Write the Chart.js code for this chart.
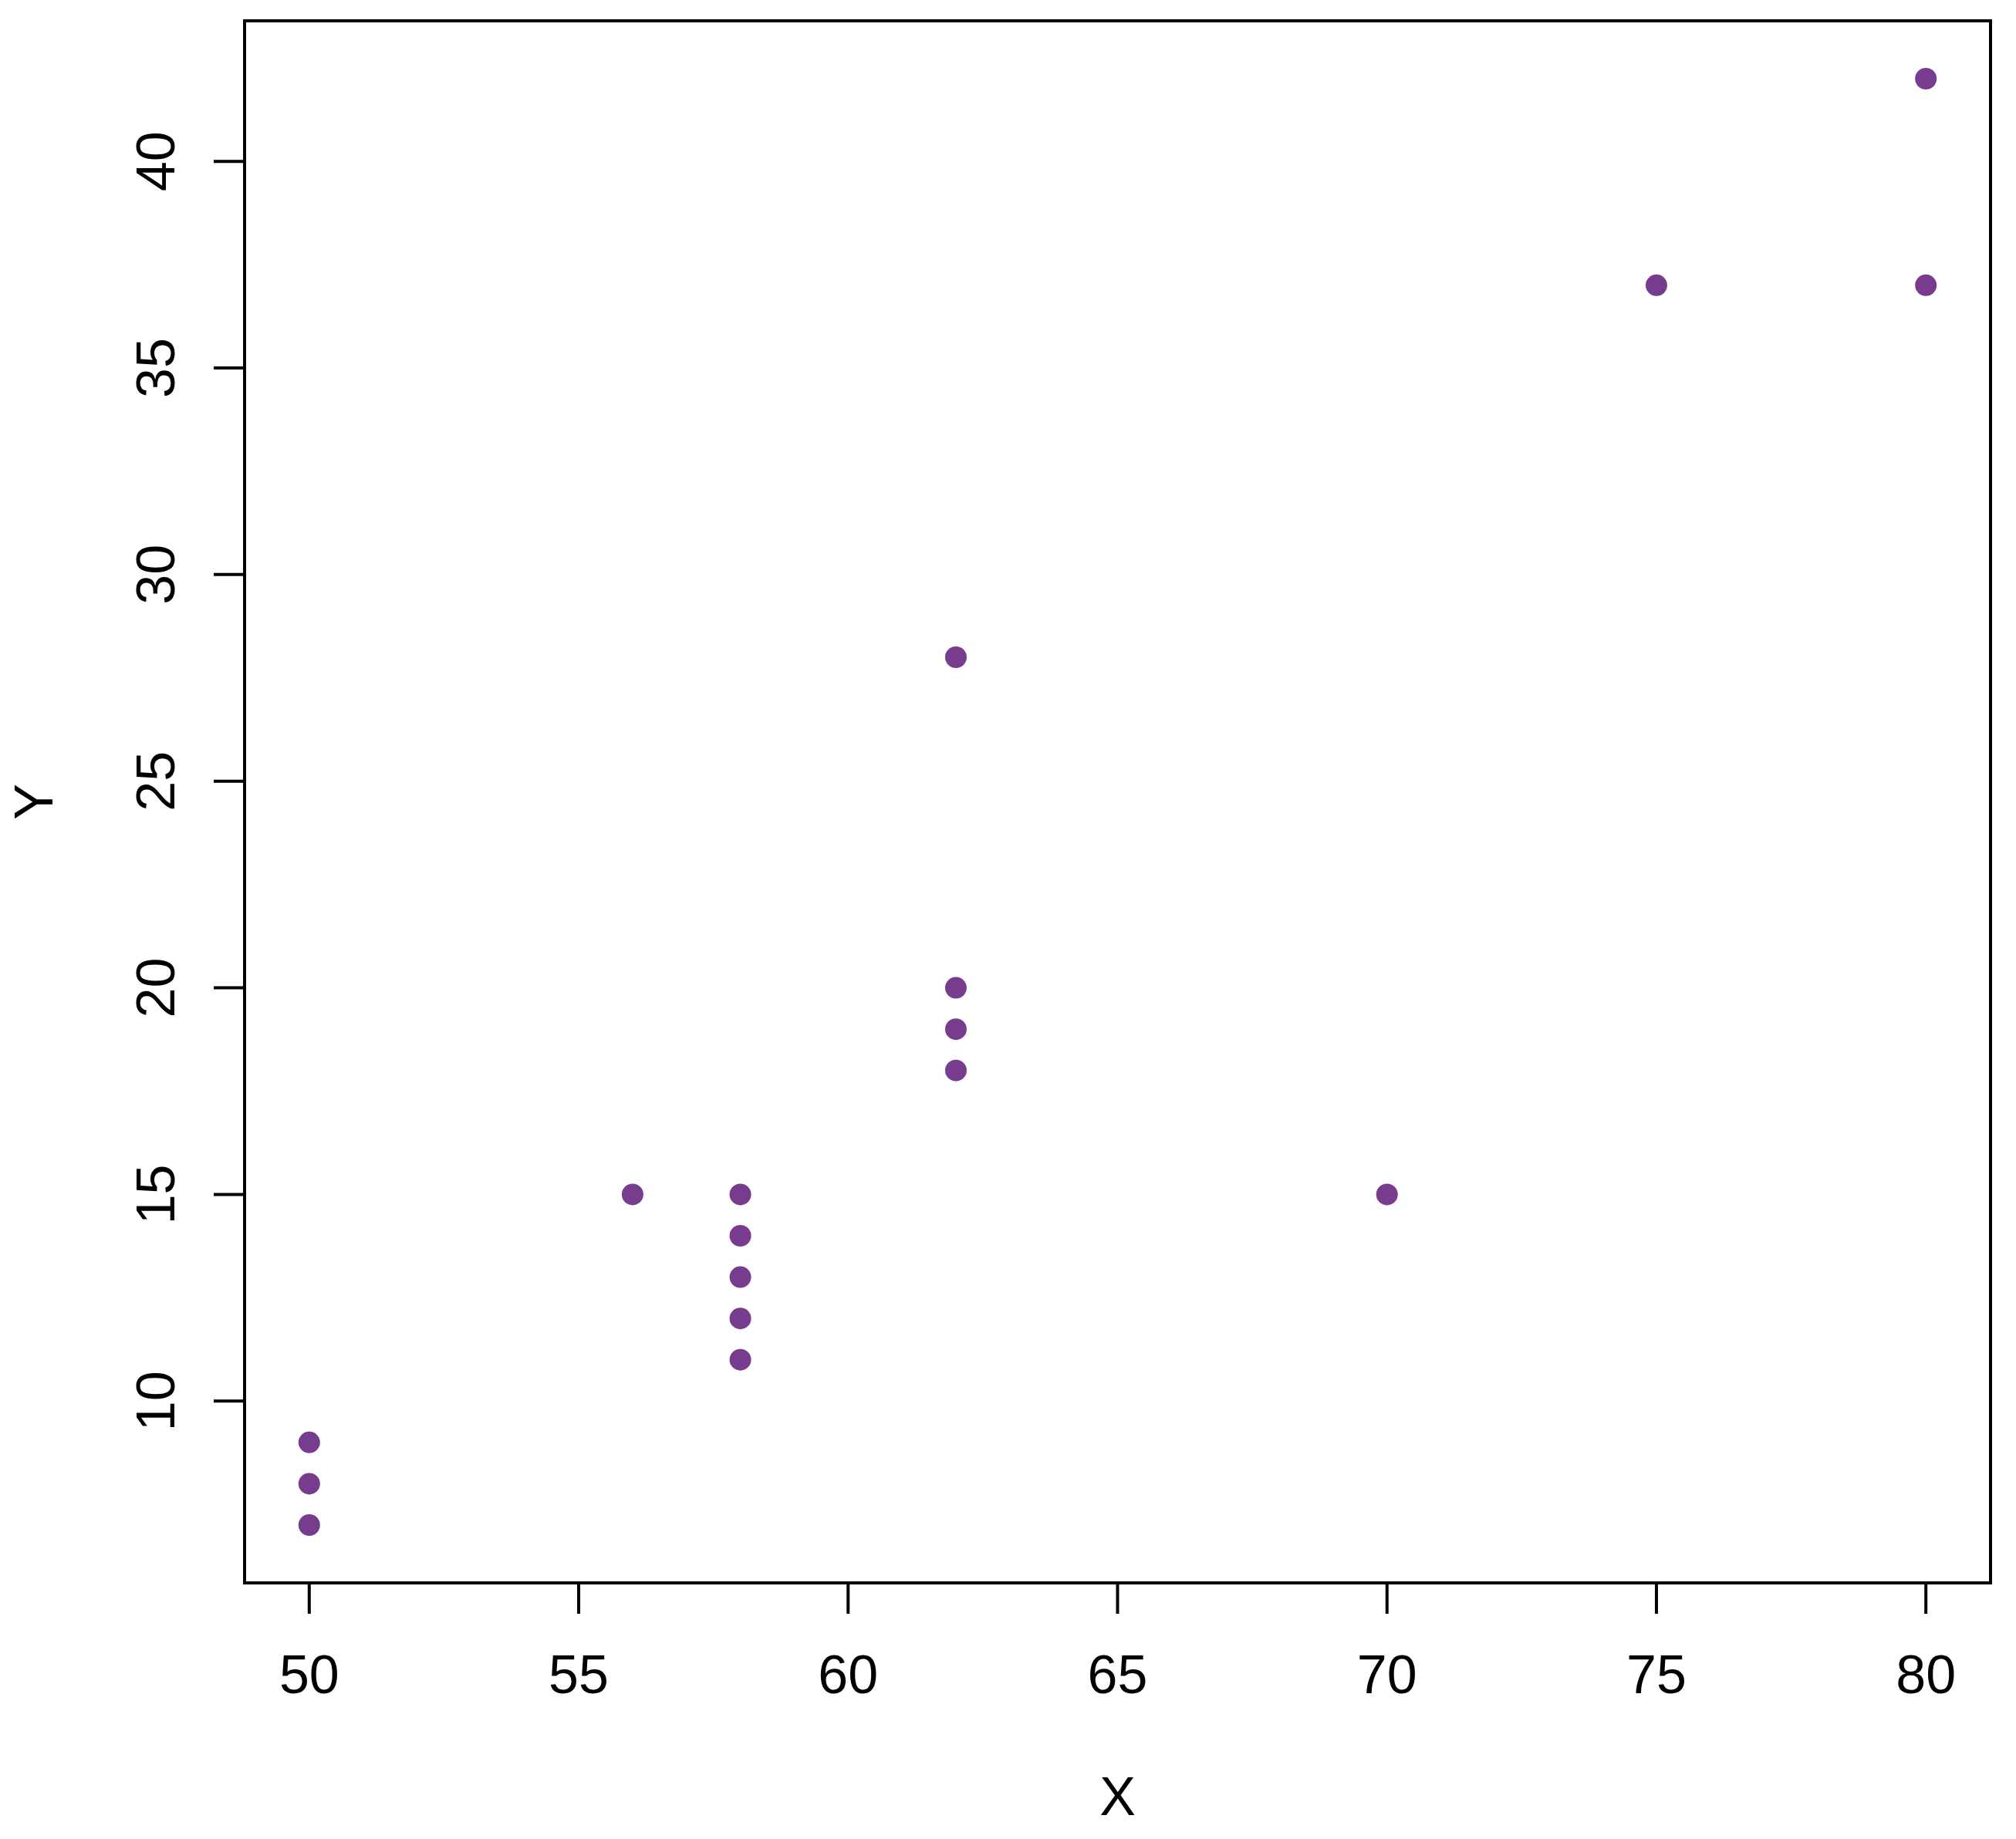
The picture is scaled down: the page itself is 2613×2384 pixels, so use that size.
<!DOCTYPE html>
<html>
<head>
<meta charset="utf-8">
<script src="https://cdn.jsdelivr.net/npm/chart.js@4.4.1/dist/chart.umd.min.js"></script>
<style>
  html, body { margin: 0; padding: 0; background: #fff; }
  canvas { display: block; }
</style>
</head>
<body>
<canvas id="chart" width="2613" height="2384"></canvas>
<script>
// data
const xValues = [50, 50, 50, 56, 58, 58, 58, 58, 58, 62, 62, 62, 62, 70, 75, 80, 80];
const yValues = [7, 8, 9, 15, 11, 12, 13, 14, 15, 18, 19, 20, 28, 15, 37, 37, 42];
const xTicks = [50, 55, 60, 65, 70, 75, 80];
const yTicks = [10, 15, 20, 25, 30, 35, 40];
const xTitle = "X";
const yTitle = "Y";

const points = xValues.map((x, i) => ({ x: x, y: yValues[i] }));

const FONT = '70px "Liberation Sans", Arial, sans-serif';

// draws the R-style box, ticks and labels
const baseAxes = {
    id: "baseAxes",
    afterDraw(chart) {
        const ctx = chart.ctx;
        const a = chart.chartArea;
        const xs = chart.scales.x;
        const ys = chart.scales.y;
        ctx.save();
        ctx.strokeStyle = "#000";
        ctx.fillStyle = "#000";
        ctx.lineWidth = 4;
        ctx.strokeRect(a.left, a.top, a.right - a.left, a.bottom - a.top);

        ctx.font = FONT;
        ctx.textAlign = "center";
        ctx.textBaseline = "alphabetic";

        xTicks.forEach(v => {
            const px = xs.getPixelForValue(v);
            ctx.beginPath();
            ctx.moveTo(px, a.bottom);
            ctx.lineTo(px, a.bottom + 40);
            ctx.stroke();
            ctx.fillText(String(v), px, 2195);
        });

        yTicks.forEach(v => {
            const py = ys.getPixelForValue(v);
            ctx.beginPath();
            ctx.moveTo(a.left, py);
            ctx.lineTo(a.left - 40, py);
            ctx.stroke();
            ctx.save();
            ctx.translate(226, py);
            ctx.rotate(-Math.PI / 2);
            ctx.fillText(String(v), 0, 0);
            ctx.restore();
        });

        ctx.fillText(xTitle, (a.left + a.right) / 2, 2353);
        ctx.save();
        ctx.translate(68, (a.top + a.bottom) / 2);
        ctx.rotate(-Math.PI / 2);
        ctx.fillText(yTitle, 0, 0);
        ctx.restore();
        ctx.restore();
    }
};

new Chart(document.getElementById("chart").getContext("2d"), {
    type: "scatter",
    data: {
        datasets: [
            {
                data: points,
                backgroundColor: "#773C8D",
                borderWidth: 0,
                pointRadius: 14,
                pointHoverRadius: 14,
            },
        ],
    },
    options: {
        responsive: false,
        animation: false,
        events: [],
        layout: { padding: { left: 0, top: 27, right: 33, bottom: 0 } },
        plugins: {
            legend: { display: false },
            tooltip: { enabled: false },
        },
        scales: {
            x: {
                type: "linear",
                min: 48.8,
                max: 81.2,
                grid: { display: false },
                border: { display: false },
                ticks: { display: false },
                afterFit(scale) { scale.height = 332; },
            },
            y: {
                type: "linear",
                min: 5.6,
                max: 43.4,
                grid: { display: false },
                border: { display: false },
                ticks: { display: false },
                afterFit(scale) { scale.width = 317; },
            },
        },
    },
    plugins: [baseAxes],
});
</script>
</body>
</html>
